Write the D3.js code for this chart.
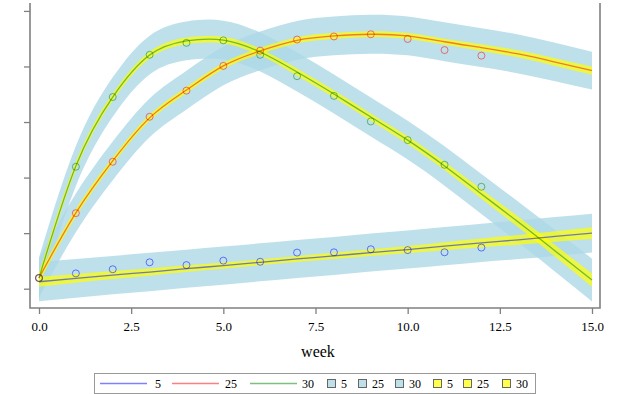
<!DOCTYPE html>
<html>
<head>
	<script src="https://d3js.org/d3.v7.min.js"></script>
	<style>
		html, body {
			padding: 0;
			margin: 0;
			background: white;
		}
		text {
			font-family: "Liberation Serif", "DejaVu Serif", serif;
		}
	</style>
</head>
<body>
	<div id="chart"></div>

	<script>
		// weeks for the fitted curves and for the observed points
		var fitWeeks = d3.range(0, 16);
		var obsWeeks = d3.range(0, 13);

		var obs5  = [3.85, 5.5, 7.0, 9.5, 8.5, 10.1, 9.7, 13.0, 13.1, 14.2, 13.9, 13.1, 14.8];
		var obs25 = [3.85, 27.2, 45.7, 61.9, 71.3, 80.2, 85.7, 89.7, 90.8, 91.6, 89.9, 85.9, 83.9];
		var obs30 = [3.85, 43.9, 69.0, 84.2, 88.5, 89.4, 84.2, 76.5, 69.4, 60.2, 53.5, 44.6, 36.7];

		// fitted curves
		var fit5  = [2.5, 3.7, 4.9, 6.0, 7.2, 8.3, 9.5, 10.7, 11.8, 13.0, 14.1, 15.3, 16.5, 17.6, 18.8, 20.0];
		var fit25 = [3.85, 27.3, 46.0, 61.5, 71.5, 80.2, 85.6, 89.4, 91.0, 91.6, 91.0, 88.9, 86.8, 84.5, 81.6, 78.5];
		var fit30 = [3.85, 44.2, 69.0, 84.1, 89.2, 89.5, 85.2, 78.0, 70.1, 61.8, 53.5, 44.2, 34.1, 24.0, 13.6, 3.1];

		// half widths of the prediction band (light blue)
		var pred5  = [7.0, 6.95, 6.9, 6.9, 6.85, 6.85, 6.85, 6.85, 6.85, 6.85, 6.85, 6.9, 6.9, 6.95, 7.0, 7.0];
		var pred25 = [7.1, 7.0, 7.0, 7.0, 7.0, 7.0, 7.0, 7.0, 7.0, 7.0, 7.0, 7.0, 7.0, 7.0, 6.9, 6.8];
		var pred30 = [7.4, 7.2, 7.1, 7.0, 7.0, 7.0, 7.0, 7.0, 7.0, 7.0, 7.0, 7.1, 7.2, 7.3, 7.5, 7.7];

		// half widths of the confidence band (yellow)
		var conf5  = [1.8, 1.6, 1.45, 1.3, 1.2, 1.15, 1.1, 1.1, 1.15, 1.2, 1.3, 1.45, 1.6, 1.75, 1.9, 2.1];
		var conf25 = [1.6, 1.4, 1.2, 1.1, 1.1, 1.1, 1.1, 1.1, 1.1, 1.1, 1.1, 1.1, 1.2, 1.3, 1.4, 1.5];
		var conf30 = [1.8, 1.5, 1.3, 1.2, 1.2, 1.2, 1.2, 1.3, 1.3, 1.3, 1.4, 1.5, 1.7, 1.9, 2.1, 2.4];

		var groups = ["5", "25", "30"];
		var xTicks = [0, 2.5, 5, 7.5, 10, 12.5, 15];
		var yTicks = [0, 20, 40, 60, 80, 100];

		var series = [
			{ name: "5",  color: "blue",  obs: obs5,  fit: fit5,  pred: pred5,  conf: conf5 },
			{ name: "25", color: "red",   obs: obs25, fit: fit25, pred: pred25, conf: conf25 },
			{ name: "30", color: "green", obs: obs30, fit: fit30, pred: pred30, conf: conf30 }
		];

		var width = 618, height = 394;
		var plotLeft = 30, plotRight = 600, plotTop = 3, plotBottom = 308;

		var svg = d3.select("#chart").append("svg")
			.attr("width", width)
			.attr("height", height);

		var x = d3.scaleLinear().domain([0, 15]).range([39, 592]);
		var y = d3.scaleLinear().domain([-6.95, 102.85]).range([plotBottom, plotTop]);

		var bandColor = "#add8e6", bandOpacity = 0.8;
		var confColor = "yellow", confOpacity = 0.7;

		function band(s, key) {
			return d3.area()
				.x(function(d) { return x(d); })
				.y0(function(d, i) { return y(s.fit[i] - s[key][i]); })
				.y1(function(d, i) { return y(s.fit[i] + s[key][i]); })
				.curve(d3.curveNatural)(fitWeeks);
		}

		// prediction bands
		svg.append("g").selectAll("path")
			.data(series).enter().append("path")
			.attr("d", function(s) { return band(s, "pred"); })
			.attr("fill", bandColor)
			.attr("fill-opacity", bandOpacity);

		// confidence bands
		svg.append("g").selectAll("path")
			.data(series).enter().append("path")
			.attr("d", function(s) { return band(s, "conf"); })
			.attr("fill", confColor)
			.attr("fill-opacity", confOpacity);

		// fitted lines
		var line = d3.line()
			.x(function(d) { return x(d[0]); })
			.y(function(d) { return y(d[1]); })
			.curve(d3.curveNatural);

		svg.append("g").selectAll("path")
			.data(series).enter().append("path")
			.attr("d", function(s) { return line(fitWeeks.map(function(w, i) { return [w, s.fit[i]]; })); })
			.attr("fill", "none")
			.attr("stroke", function(s) { return s.color; })
			.attr("stroke-opacity", 0.5)
			.attr("stroke-width", 1.3);

		// observed points
		series.forEach(function(s) {
			svg.append("g").selectAll("circle")
				.data(obsWeeks).enter().append("circle")
				.attr("cx", function(d) { return x(d); })
				.attr("cy", function(d, i) { return y(s.obs[i]); })
				.attr("r", 3.5)
				.attr("fill", "none")
				.attr("stroke", s.color)
				.attr("stroke-opacity", 0.5)
				.attr("stroke-width", 1);
		});

		// axes
		var axisColor = "#808080";

		var xAxis = svg.append("g")
			.attr("transform", "translate(0," + plotBottom + ")")
			.call(d3.axisBottom(x).tickValues(xTicks).tickFormat(d3.format(".1f")).tickSize(6).tickSizeOuter(0));
		xAxis.select(".domain").remove();
		xAxis.selectAll("line").attr("stroke", axisColor).attr("stroke-width", 1.3);
		xAxis.selectAll("text")
			.attr("fill", "#000")
			.attr("font-size", 13)
			.attr("dy", "1.05em");

		var yAxis = svg.append("g")
			.attr("transform", "translate(" + plotLeft + ",0)")
			.call(d3.axisLeft(y).tickValues(yTicks).tickFormat("").tickSize(6).tickSizeOuter(0));
		yAxis.select(".domain").remove();
		yAxis.selectAll("line").attr("stroke", axisColor).attr("stroke-width", 1.3);

		// frame: left, bottom, right
		svg.append("path")
			.attr("d", "M" + plotLeft + "," + plotTop + "V" + plotBottom + "H" + plotRight + "V" + plotTop)
			.attr("fill", "none")
			.attr("stroke", axisColor)
			.attr("stroke-width", 1.6);

		svg.append("text")
			.attr("x", (plotLeft + plotRight) / 2 + 3)
			.attr("y", 357)
			.attr("text-anchor", "middle")
			.attr("font-size", 16)
			.text("week");

		// legend
		var legend = svg.append("g");
		legend.append("rect")
			.attr("x", 94.5).attr("y", 373.5)
			.attr("width", 441).attr("height", 20)
			.attr("fill", "white")
			.attr("stroke", "#999")
			.attr("stroke-width", 1);

		var lineItems = [
			{ name: groups[0], color: "blue",  x: 100, tx: 155 },
			{ name: groups[1], color: "red",   x: 172, tx: 225 },
			{ name: groups[2], color: "green", x: 250, tx: 302 }
		];
		lineItems.forEach(function(it) {
			legend.append("line")
				.attr("x1", it.x).attr("x2", it.x + 47)
				.attr("y1", 383.5).attr("y2", 383.5)
				.attr("stroke", it.color)
				.attr("stroke-opacity", 0.5)
				.attr("stroke-width", 1.3);
			legend.append("text")
				.attr("x", it.tx).attr("y", 387.5)
				.attr("font-size", 12)
				.text(it.name);
		});

		var boxItems = [
			{ name: groups[0], fill: bandColor, op: bandOpacity, x: 327 },
			{ name: groups[1], fill: bandColor, op: bandOpacity, x: 358 },
			{ name: groups[2], fill: bandColor, op: bandOpacity, x: 395 },
			{ name: groups[0], fill: confColor, op: confOpacity, x: 433 },
			{ name: groups[1], fill: confColor, op: confOpacity, x: 463 },
			{ name: groups[2], fill: confColor, op: confOpacity, x: 502 }
		];
		boxItems.forEach(function(it) {
			legend.append("rect")
				.attr("x", it.x + 0.5).attr("y", 379.5)
				.attr("width", 8).attr("height", 8)
				.attr("fill", it.fill)
				.attr("fill-opacity", it.op)
				.attr("stroke", "#666")
				.attr("stroke-width", 1);
			legend.append("text")
				.attr("x", it.x + 14).attr("y", 387.5)
				.attr("font-size", 12)
				.text(it.name);
		});
	</script>
</body>
</html>
